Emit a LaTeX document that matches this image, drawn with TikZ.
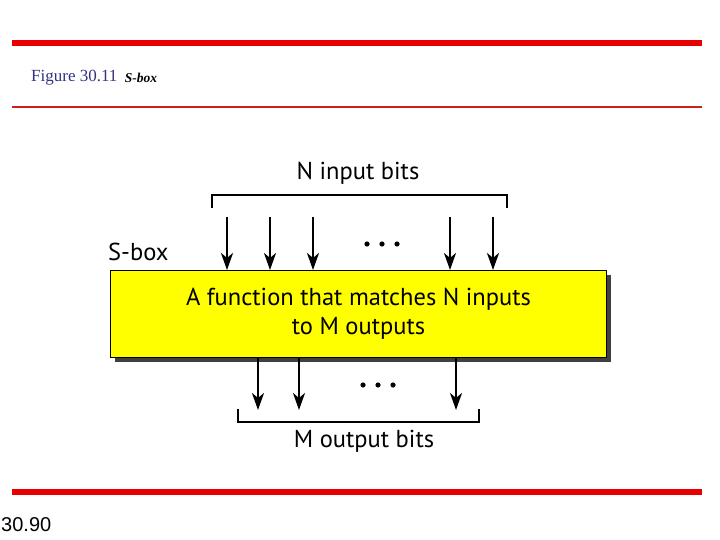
\documentclass[tikz,border=0pt]{standalone}
\usepackage{fontspec}
\setmainfont{Liberation Serif}
\setsansfont{PT Sans}
\newfontfamily\pagenumfont{Liberation Sans}
\usetikzlibrary{arrows.meta,positioning}
\definecolor{barred}{RGB}{232,0,0}
\definecolor{rulered}{RGB}{205,30,30}
\definecolor{capblue}{RGB}{50,50,130}
\definecolor{boxyellow}{RGB}{255,255,0}
\tikzset{
  bitarrow/.style={line width=2.4pt,-{Stealth[length=17pt,width=12pt,inset=5pt]}},
  bracketline/.style={line width=1.4pt},
  sanslabel/.style={font=\sffamily\fontsize{24.5}{28}\selectfont,inner sep=0pt},
}

\begin{document}
\begin{tikzpicture}[x=1pt,y=-1pt]
  \useasboundingbox (0,0) rectangle (720,540);
  % page rules
  \fill[barred] (12,40) rectangle (702,46);
  \draw[rulered,line width=2.5pt] (12,107) -- (702,107);
  \fill[barred] (12,489) rectangle (702,495);
  \node[anchor=west,inner sep=0pt,text=capblue,font=\fontsize{17}{19}\selectfont] (figno) at (31,78) {Figure 30.11};
  \node[right=7pt of figno,inner sep=0pt,font=\bfseries\itshape\fontsize{13.5}{15}\selectfont] (figname) {S-box};
  \node[anchor=west,inner sep=0pt,font=\pagenumfont\fontsize{20}{22}\selectfont] (pagenum) at (1,525) {30.90};

  % the box with its shadow
  \fill[black!75] (115,275) rectangle (611,362);
  \node[draw,line width=1pt,fill=boxyellow,minimum width=496pt,minimum height=87pt,
        anchor=north west,inner sep=0pt,align=center,
        font=\sffamily\fontsize{24.5}{29}\selectfont] (sbox) at (110,270)
        {A function that matches N inputs\\to M outputs};
  \node[sanslabel,anchor=south west] (sboxname) at (108,261) {S-box};

  % inputs
  \node[sanslabel] (inlabel) at (358,173) {N input bits};
  \coordinate (inl) at (212,208);
  \coordinate (inr) at (507,208);
  \draw[bracketline] (inl) -- ++(0,-13) -| (inr);
  \foreach \x [count=\i] in {227,270,313,450,493} {
    \coordinate (in\i) at (\x,217);
    \draw[bitarrow] (in\i) -- (in\i |- sbox.north);
  }
  \foreach \x in {367,382,397}
    \fill (\x,244) circle (2.6);

  % outputs
  \foreach \x [count=\i] in {258,299,456} {
    \coordinate (out\i) at (\x,410);
    \draw[bitarrow] (out\i |- sbox.south) -- (out\i);
  }
  \foreach \x in {363,378,393}
    \fill (\x,385) circle (2.6);
  \coordinate (outl) at (238,409);
  \coordinate (outr) at (479,409);
  \draw[bracketline] (outl) -- ++(0,13) -| (outr);
  \node[sanslabel] (outlabel) at (364,441) {M output bits};
\end{tikzpicture}
\end{document}
